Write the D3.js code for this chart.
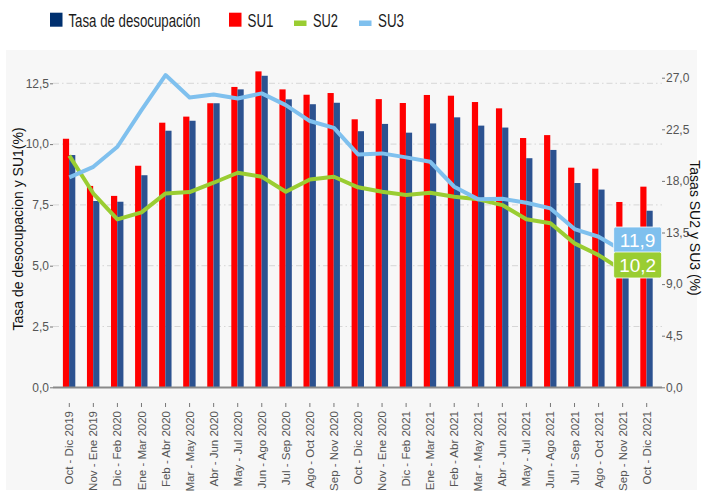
<!DOCTYPE html>
<html>
<head>
<meta charset="utf-8">
<style>
  body { margin: 0; background: #ffffff; }
  svg { display: block; font-family: 'Liberation Sans', Arial, sans-serif; }
</style>
</head>
<body>
<svg width="703" height="494"></svg>
<script src="https://d3js.org/d3.v7.min.js"></script>
<script>
// categories (moving quarters)
const periods = [
  "Oct - Dic 2019", "Nov - Ene 2019", "Dic - Feb 2020", "Ene - Mar 2020", "Feb - Abr 2020",
  "Mar - May 2020", "Abr - Jun 2020", "May - Jul 2020", "Jun - Ago 2020", "Jul - Sep 2020",
  "Ago - Oct 2020", "Sep - Nov 2020", "Oct - Dic 2020", "Nov - Ene 2020", "Dic - Feb 2021",
  "Ene - Mar 2021", "Feb - Abr 2021", "Mar - May 2021", "Abr - Jun 2021", "May - Jul 2021",
  "Jun - Ago 2021", "Jul - Sep 2021", "Ago - Oct 2021", "Sep - Nov 2021", "Oct - Dic 2021"
];
const desocupacion = [9.55, 7.66, 7.63, 8.72, 10.55, 10.96, 11.68, 12.25, 12.81, 11.84,
  11.64, 11.70, 10.53, 10.83, 10.47, 10.85, 11.10, 10.76, 10.68, 9.42,
  9.76, 8.40, 8.13, 6.4, 7.26];
const su1 = [10.22, 8.28, 7.87, 9.11, 10.88, 11.13, 11.68, 12.35, 12.99, 12.25,
  12.03, 12.10, 11.02, 11.85, 11.69, 12.02, 11.99, 11.73, 11.47, 10.25,
  10.37, 9.03, 8.99, 7.62, 8.25];
// lines stop at Sep - Nov 2021
const su2 = [20.2, 16.9, 14.65, 15.26, 16.91, 17.03, 17.84, 18.71, 18.36, 17.05,
  18.13, 18.36, 17.44, 17.05, 16.77, 16.97, 16.62, 16.39, 15.89, 14.65,
  14.30, 12.55, 11.53, 10.2];
const su3 = [18.31, 19.23, 20.98, 24.18, 27.23, 25.28, 25.54, 25.19, 25.63, 24.61,
  23.22, 22.63, 20.31, 20.40, 20.05, 19.67, 17.49, 16.39, 16.44, 16.10,
  15.60, 13.80, 13.13, 11.9];
const leftTicks = [0, 2.5, 5, 7.5, 10, 12.5];
const rightTicks = [0, 4.5, 9, 13.5, 18, 22.5, 27];

const cRed = "#ff0000", cBlue = "#2c5290", cNavy = "#00306f";
const cGreen = "#9acd32", cSky = "#7fc0ee";

const svg = d3.select("svg");
const loc = d3.formatLocale({ decimal: ",", thousands: ".", grouping: [3], currency: ["", ""] });
const f1 = loc.format(".1f");

// panel background
svg.append("rect").attr("x", 6).attr("y", 50).attr("width", 691).attr("height", 440)
  .attr("fill", "#f7f7f7");

const x = d3.scalePoint().domain(periods).range([69.3, 646.7]);
const sub = d3.scaleBand().domain(["su1", "tasa"]).range([-6.4, 6.0]);
const yL = d3.scaleLinear().domain([0, 12.5]).range([387.3, 83.3]);
const yR = d3.scaleLinear().domain([0, 27]).range([387.3, 77.7]);

// gridlines
svg.append("g").selectAll("line").data(leftTicks.slice(1)).join("line")
  .attr("x1", 53).attr("x2", 662)
  .attr("y1", d => yL(d)).attr("y2", d => yL(d))
  .attr("stroke", "#d6d6d6").attr("stroke-width", 1)
  .attr("stroke-dasharray", "6,3,1.5,3");

// bars
const rows = periods.map((p, i) => ({ p, su1: su1[i], tasa: desocupacion[i] }));
const bars = svg.append("g");
bars.selectAll(".r").data(rows).join("rect").attr("class", "r")
  .attr("x", d => x(d.p) + sub("su1")).attr("width", sub.bandwidth())
  .attr("y", d => yL(d.su1)).attr("height", d => yL(0) - yL(d.su1))
  .attr("fill", cRed);
bars.selectAll(".b").data(rows).join("rect").attr("class", "b")
  .attr("x", d => x(d.p) + sub("tasa")).attr("width", sub.bandwidth())
  .attr("y", d => yL(d.tasa)).attr("height", d => yL(0) - yL(d.tasa))
  .attr("fill", cBlue);

// x axis line
svg.append("line").attr("x1", 53).attr("x2", 662).attr("y1", 387.5).attr("y2", 387.5)
  .attr("stroke", "#8a8a8a").attr("stroke-width", 2);

// lines
const line = d3.line().x((d, i) => x(periods[i])).y(d => yR(d));
svg.append("path").datum(su2).attr("d", line).attr("fill", "none")
  .attr("stroke", cGreen).attr("stroke-width", 4).attr("stroke-linejoin", "round");
svg.append("path").datum(su3).attr("d", line).attr("fill", "none")
  .attr("stroke", cSky).attr("stroke-width", 4).attr("stroke-linejoin", "round");

// end labels
const last = periods.length - 2;
const endLabels = [
  { v: su3[last], color: cSky, cy: 240 },
  { v: su2[last], color: cGreen, cy: 265 }
];
const lg = svg.append("g").selectAll("g").data(endLabels).join("g")
  .attr("transform", d => `translate(${x(periods[last]) - 9},${d.cy})`);
lg.append("rect").attr("x", 0).attr("y", -13).attr("width", 48).attr("height", 26)
  .attr("rx", 2).attr("fill", d => d.color).attr("stroke", "#ffffff").attr("stroke-width", 0.8);
lg.append("text").attr("x", 24).attr("y", 0).attr("dy", "0.36em")
  .attr("text-anchor", "middle").attr("fill", "#ffffff").attr("font-size", 19)
  .text(d => f1(d.v));

// left axis
const axL = svg.append("g").attr("transform", "translate(53,0)")
  .call(d3.axisLeft(yL).tickValues(leftTicks).tickFormat(f1).tickSize(3).tickPadding(1));
axL.select(".domain").remove();
axL.selectAll("line").attr("stroke", "#777");
axL.selectAll("text").attr("fill", "#555").attr("font-size", 12).attr("font-family", null);

// right axis
const axR = svg.append("g").attr("transform", "translate(662,0)")
  .call(d3.axisRight(yR).tickValues(rightTicks).tickFormat(f1).tickSize(3).tickPadding(1));
axR.select(".domain").remove();
axR.selectAll("line").attr("stroke", "#777");
axR.selectAll("text").attr("fill", "#555").attr("font-size", 12).attr("font-family", null);

// x labels
const xl = svg.append("g").selectAll("g").data(periods).join("g")
  .attr("transform", d => `translate(${x(d)},0)`);
xl.append("line").attr("y1", 403).attr("y2", 407).attr("stroke", "#777");
xl.append("text").attr("transform", "translate(0,411) rotate(-90)")
  .attr("text-anchor", "end").attr("dy", "0.35em")
  .attr("fill", "#555").attr("font-size", 11.5).text(d => d);

// axis titles
svg.append("text").attr("transform", "translate(18,229) rotate(-90)")
  .attr("text-anchor", "middle").attr("dy", "0.35em").attr("font-size", 14)
  .attr("fill", "#111").text("Tasa de desocupacion y SU1(%)");
svg.append("text").attr("transform", "translate(695,228) rotate(90)")
  .attr("text-anchor", "middle").attr("dy", "0.35em").attr("font-size", 14)
  .attr("fill", "#111").text("Tasas SU2 y SU3 (%)");

// legend (text squeezed horizontally to look like the narrow font)
const legend = [
  { name: "Tasa de desocupación", color: cNavy, x: 50, type: "box", w: 132 },
  { name: "SU1", color: cRed, x: 229, type: "box", w: 26 },
  { name: "SU2", color: cGreen, x: 294, type: "line", w: 25 },
  { name: "SU3", color: cSky, x: 359, type: "line", w: 26 }
];
const leg = svg.append("g").selectAll("g").data(legend).join("g")
  .attr("transform", d => `translate(${d.x},0)`);
leg.append("rect").attr("x", 0).attr("width", 12.5)
  .attr("y", d => d.type === "box" ? 12.7 : 20.5)
  .attr("height", d => d.type === "box" ? 14 : 5.5)
  .attr("fill", d => d.color);
leg.append("text").attr("dy", "0.36em")
  .attr("font-size", 18.5).attr("fill", "#1a1a1a")
  .text(d => d.name)
  .attr("transform", function (d) {
    const sx = d.w / this.getComputedTextLength();
    return `translate(${d.type === "box" ? 18.5 : 19},20) scale(${sx},1)`;
  });
</script>
</body>
</html>
